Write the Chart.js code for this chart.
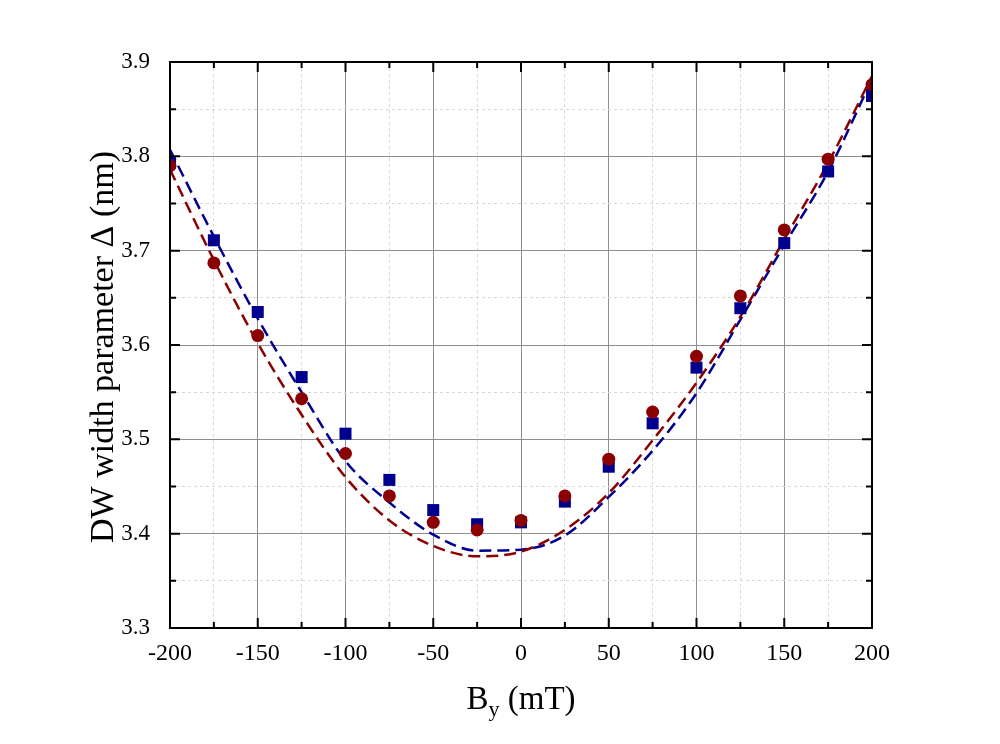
<!DOCTYPE html>
<html>
<head>
<meta charset="utf-8">
<script src="https://cdn.jsdelivr.net/npm/chart.js@4"></script>
<style>
  body { margin: 0; background: #fff; }
  #wrap { width: 1000px; height: 744px; position: relative; }
</style>
</head>
<body>
<div id="wrap"><canvas id="dwChart"></canvas></div>
<script>
// ===== Data =====
const fieldValues = [-200, -175, -150, -125, -100, -75, -50, -25, 0, 25, 50, 75, 100, 125, 150, 175, 200];

// measured points
const bluePoints = [3.793, 3.711, 3.635, 3.566, 3.506, 3.457, 3.425, 3.410, 3.412, 3.434, 3.471, 3.517, 3.576, 3.639, 3.708, 3.784, 3.864];
const redPoints  = [3.790, 3.687, 3.610, 3.543, 3.485, 3.440, 3.412, 3.404, 3.414, 3.440, 3.479, 3.529, 3.588, 3.652, 3.722, 3.797, 3.876];

// dashed fit curves
const blueFit = [3.807, 3.715, 3.628, 3.550, 3.477, 3.433, 3.399, 3.382, 3.383, 3.398, 3.439, 3.488, 3.549, 3.627, 3.706, 3.784, 3.882];
const redFit  = [3.786, 3.690, 3.602, 3.526, 3.460, 3.414, 3.387, 3.376, 3.381, 3.404, 3.443, 3.499, 3.560, 3.630, 3.712, 3.793, 3.885];

const xTickLabels = ["-200", "-150", "-100", "-50", "0", "50", "100", "150", "200"];
const yTickLabels = ["3.3", "3.4", "3.5", "3.6", "3.7", "3.8", "3.9"];

const BLUE = "#00008f";
const RED = "#8b0000";
const FONT = "'Liberation Serif', 'Times New Roman', serif";

function pairs(xs, ys) {
  return xs.map((x, i) => ({ x: x, y: ys[i] }));
}

function isMajorX(v) { return Math.abs(v / 50 - Math.round(v / 50)) < 1e-6; }
function isMajorY(v) { return Math.abs(v * 10 - Math.round(v * 10)) < 1e-6; }

// ===== Frame, inward ticks and axis titles =====
const framePlugin = {
  id: "frame",
  afterDraw(chart) {
    const ctx = chart.ctx;
    const a = chart.chartArea;
    const xs = chart.scales.x;
    const ys = chart.scales.y;
    ctx.save();
    ctx.strokeStyle = "#000";
    ctx.lineWidth = 2;
    ctx.strokeRect(a.left, a.top, a.right - a.left, a.bottom - a.top);

    ctx.beginPath();
    xs.ticks.forEach(t => {
      const px = xs.getPixelForValue(t.value);
      const len = isMajorX(t.value) ? 10 : 6;
      ctx.moveTo(px, a.bottom); ctx.lineTo(px, a.bottom - len);
      ctx.moveTo(px, a.top); ctx.lineTo(px, a.top + len);
    });
    ys.ticks.forEach(t => {
      const py = ys.getPixelForValue(t.value);
      const len = isMajorY(t.value) ? 10 : 6;
      ctx.moveTo(a.left, py); ctx.lineTo(a.left + len, py);
      ctx.moveTo(a.right, py); ctx.lineTo(a.right - len, py);
    });
    ctx.stroke();

    // x title: B_y (mT)
    ctx.fillStyle = "#000";
    ctx.textBaseline = "alphabetic";
    const big = "33px " + FONT;
    const small = "22px " + FONT;
    const cx = (a.left + a.right) / 2;
    const baseY = 709;
    ctx.font = big;
    const wB = ctx.measureText("B").width;
    const wRest = ctx.measureText(" (mT)").width;
    ctx.font = small;
    const wy = ctx.measureText("y").width;
    let sx = cx - (wB + wy + wRest) / 2;
    ctx.textAlign = "left";
    ctx.font = big;
    ctx.fillText("B", sx, baseY);
    ctx.font = small;
    ctx.fillText("y", sx + wB, baseY + 7);
    ctx.font = big;
    ctx.fillText(" (mT)", sx + wB + wy, baseY);

    // y title
    ctx.save();
    ctx.translate(113, (a.top + a.bottom) / 2 + 2);
    ctx.rotate(-Math.PI / 2);
    ctx.textAlign = "center";
    ctx.font = "34px " + FONT;
    ctx.fillText("DW width parameter \u0394 (nm)", 0, 0);
    ctx.restore();

    ctx.restore();
  }
};

window.addEventListener("load", () => {
  const ctx = document.getElementById("dwChart");
  new Chart(ctx, {
    type: "scatter",
    data: {
      datasets: [
        {
          label: "red points",
          data: pairs(fieldValues, redPoints),
          pointStyle: "circle",
          pointRadius: 6.5,
          pointHoverRadius: 6.5,
          backgroundColor: RED,
          borderColor: RED,
          borderWidth: 0,
          order: 0
        },
        {
          label: "blue points",
          data: pairs(fieldValues, bluePoints),
          pointStyle: "rect",
          pointRadius: 8.5,
          pointHoverRadius: 8.5,
          backgroundColor: BLUE,
          borderColor: BLUE,
          borderWidth: 0,
          order: 1
        },
        {
          label: "red fit",
          data: pairs(fieldValues, redFit),
          showLine: true,
          pointRadius: 0,
          borderColor: RED,
          borderWidth: 2.5,
          borderDash: [12, 6],
          cubicInterpolationMode: "monotone",
          order: 2
        },
        {
          label: "blue fit",
          data: pairs(fieldValues, blueFit),
          showLine: true,
          pointRadius: 0,
          borderColor: BLUE,
          borderWidth: 2.5,
          borderDash: [12, 6],
          cubicInterpolationMode: "monotone",
          order: 3
        }
      ]
    },
    options: {
      responsive: true,
      maintainAspectRatio: false,
      animation: false,
      layout: { padding: { top: 62, right: 128, left: 0, bottom: 0 } },
      plugins: {
        legend: { display: false },
        tooltip: { enabled: false }
      },
      scales: {
        x: {
          type: "linear",
          min: -200,
          max: 200,
          afterFit: s => { s.height = 116; },
          ticks: {
            stepSize: 25,
            autoSkip: false,
            maxRotation: 0,
            padding: 11,
            color: "#000",
            font: { family: FONT, size: 24 },
            callback: v => isMajorX(v) ? xTickLabels[Math.round((v + 200) / 50)] : ""
          },
          grid: {
            drawTicks: false,
            lineWidth: 1,
            color: c => isMajorX(c.tick.value) ? "#8e8e8e" : "#d8d8d8"
          },
          border: {
            display: false,
            dash: c => isMajorX(c.tick.value) ? [] : [3, 3]
          }
        },
        y: {
          type: "linear",
          min: 3.3,
          max: 3.9,
          afterFit: s => { s.width = 170; },
          ticks: {
            stepSize: 0.05,
            autoSkip: false,
            padding: 20,
            color: "#000",
            font: { family: FONT, size: 23 },
            callback: v => isMajorY(v) ? yTickLabels[Math.round((v - 3.3) * 10)] : ""
          },
          grid: {
            drawTicks: false,
            lineWidth: 1,
            color: c => isMajorY(c.tick.value) ? "#8e8e8e" : "#d8d8d8"
          },
          border: {
            display: false,
            dash: c => isMajorY(c.tick.value) ? [] : [3, 3]
          }
        }
      }
    },
    plugins: [framePlugin]
  });
});
</script>
</body>
</html>
